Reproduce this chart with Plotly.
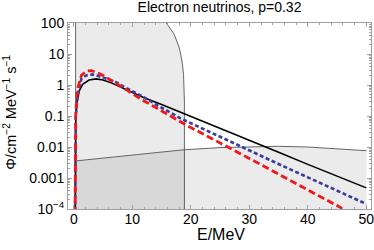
import plotly.graph_objects as go

# ---- data ----
E_black = [0.2, 0.28, 0.34, 0.5, 0.9, 1.5, 2.6, 3.8, 5, 6.5, 8, 10, 12, 15, 18.8, 21.7, 25, 30, 35, 40, 45, 50]
phi_black = [3.2e-5, 0.01, 0.079, 0.25, 0.63, 1.05, 1.45, 1.58, 1.45, 1.15, 0.85, 0.575, 0.39, 0.234, 0.12, 0.074,
             0.041, 0.0166, 0.00676, 0.00275, 0.00115, 0.00048]

E_blue = [0.2, 0.26, 0.33, 0.6, 1.29, 2.1, 3.2, 4.9, 7.2, 8.6, 10, 12, 14.3, 18.3, 22.3, 27.9, 35, 40, 45, 50]
phi_blue = [3.2e-5, 0.01, 0.1, 0.41, 1.58, 2.04, 2.19, 1.78, 1.23, 0.87, 0.63, 0.40, 0.22, 0.083, 0.037, 0.0117,
            0.00282, 0.00105, 0.00039, 0.000145]

E_red = [0.2, 0.25, 0.31, 0.5, 0.72, 1.29, 2.14, 3.0, 4.0, 5.0, 7.0, 8.7, 11.4, 13, 15.4, 19.1, 21.7, 25, 30, 35, 40,
         46.1, 50]
phi_red = [3.2e-5, 0.01, 0.102, 0.40, 0.85, 2.04, 2.82, 2.88, 2.51, 2.04, 1.23, 0.76, 0.355, 0.234, 0.132, 0.0525,
           0.0295, 0.0135, 0.00427, 0.00132, 0.000417, 1.0e-4, 4.0e-5]

# solar-neutrino shaded band (upper edge)
E_solar = [0.3, 0.3, 4, 8, 12, 14.5, 15.8, 16.5, 17.1, 17.6, 18.0, 18.3, 18.55, 18.75, 18.85, 18.9, 18.9]
phi_solar = [1e-6, 1e10, 1e6, 3e4, 2e3, 300, 100, 65, 45, 26, 16.6, 9, 4.9, 2.2, 1.0, 0.3, 1e-6]

# background shaded band (upper edge)
E_bg = [0.3, 5, 10, 15, 18.8, 25, 30, 35, 40, 45, 50]
phi_bg = [0.00355, 0.00437, 0.0055, 0.00692, 0.00813, 0.00955, 0.0102, 0.0105, 0.0100, 0.0089, 0.0076]

y_tickvals = [1e-4, 1e-3, 1e-2, 1e-1, 1, 10, 100]
y_ticktext = ["10<sup>−4</sup>", "0.001", "0.01", "0.1", "1", "10", "100"]
x_tickvals = [0, 10, 20, 30, 40, 50]

title_text = "Electron neutrinos, p=0.32"
x_title = "E/MeV"
y_title = "Φ/cm<sup>−2</sup> MeV<sup>−1</sup> s<sup>−1</sup>"

FLOOR = 1e-6
fill_col = "rgba(0,0,0,0.08)"
edge_col = "#555555"

fig = go.Figure()

# solar fill
fig.add_trace(go.Scatter(x=E_solar, y=phi_solar, mode="lines", fill="toself", fillcolor=fill_col,
                         line=dict(color=edge_col, width=0.9), hoverinfo="skip", showlegend=False))
# background fill
fig.add_trace(go.Scatter(x=[E_bg[0]] + E_bg + [E_bg[-1]], y=[FLOOR] + phi_bg + [FLOOR], mode="lines",
                         fill="toself", fillcolor=fill_col, line=dict(width=0), hoverinfo="skip", showlegend=False))
fig.add_trace(go.Scatter(x=E_bg, y=phi_bg, mode="lines", line=dict(color=edge_col, width=0.9),
                         hoverinfo="skip", showlegend=False))

# spectra
fig.add_trace(go.Scatter(x=E_black, y=phi_black, mode="lines", line=dict(color="black", width=1.6),
                         showlegend=False))
fig.add_trace(go.Scatter(x=E_blue, y=phi_blue, mode="lines",
                         line=dict(color="#3a3ca0", width=2.6, dash="4px,2.5px"), showlegend=False))
fig.add_trace(go.Scatter(x=E_red, y=phi_red, mode="lines",
                         line=dict(color="#f01818", width=2.8, dash="7px,3.5px"), showlegend=False))

frame = "#a0a0a0"
fig.update_xaxes(range=[-1, 50.8], tickvals=x_tickvals, ticks="inside", ticklen=4, tickcolor=frame,
                 showline=True, linecolor=frame, linewidth=1, mirror="allticks", showgrid=False, zeroline=False,
                 minor=dict(ticks="inside", dtick=2, tick0=0, ticklen=2, tickcolor=frame, showgrid=False),
                 tickfont=dict(size=14, color="black"), automargin=False, ticklabeloverflow="allow",
                 ticklabelstandoff=-3)

y_minor = [m * 10 ** k for k in range(-4, 2) for m in range(2, 10)]
fig.update_yaxes(type="log", range=[-4, 2], tickvals=y_tickvals, ticktext=y_ticktext, ticks="inside",
                 ticklen=4, tickcolor=frame, showline=True, linecolor=frame, linewidth=1, mirror="allticks",
                 showgrid=False, zeroline=False, automargin=False, ticklabeloverflow="allow",
                 minor=dict(ticks="inside", tickvals=y_minor, ticklen=2, tickcolor=frame, showgrid=False),
                 tickfont=dict(size=14, color="black"))

fig.add_annotation(text=x_title, xref="paper", yref="paper", x=0.505, y=-0.135, xanchor="center",
                   yanchor="middle", showarrow=False, font=dict(size=16, color="black"))
fig.add_annotation(text=y_title, xref="paper", yref="paper", x=-0.19, y=0.52, xanchor="center",
                   yanchor="middle", textangle=-90, showarrow=False, font=dict(size=14.5, color="black"))

fig.update_layout(width=374, height=250, margin=dict(l=68, r=3, t=23, b=41, autoexpand=False),
                  paper_bgcolor="white", plot_bgcolor="white",
                  font=dict(family="Liberation Sans, Arial, sans-serif", color="black"),
                  title=dict(text=title_text, x=0.587, xanchor="center", y=0.972, yanchor="middle",
                             font=dict(size=14, color="black")))

fig.write_html("out.html", config={"displayModeBar": False},
               post_script="document.body.style.margin='0';document.body.style.overflow='hidden';")
